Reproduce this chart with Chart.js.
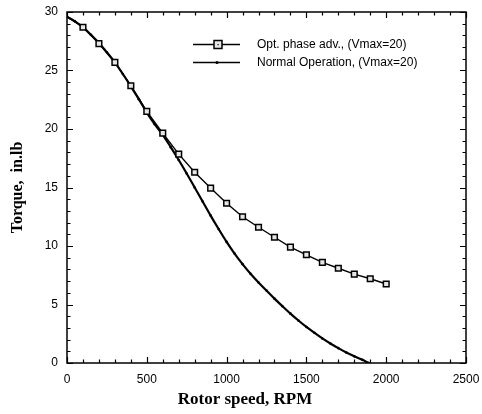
<!DOCTYPE html>
<html>
<head>
<meta charset="utf-8">
<script src="https://cdn.jsdelivr.net/npm/chart.js@4/dist/chart.umd.min.js"></script>
<style>
html,body{margin:0;padding:0;background:#fff;}
canvas{display:block;}
</style>
</head>
<body>
<canvas id="c" width="482" height="414"></canvas>
<script>
// ---- data ----
const optSpeed = [0,100,200,300,400,500,600,700,800,900,1000,1100,1200,1300,1400,1500,1600,1700,1800,1900,2000];
const optTorque = [29.6,28.7,27.3,25.7,23.7,21.5,19.65,17.85,16.3,14.95,13.65,12.5,11.6,10.75,9.9,9.25,8.6,8.1,7.6,7.2,6.75];

const normSpeed = [0,50,100,150,200,250,300,350,400,450,500,550,600,650,700,750,800,850,900,950,1000,1050,1100,1150,1200,1250,1300,1350,1400,1450,1500,1550,1600,1650,1700,1750,1800,1850,1890];
const normTorque = [29.6,29.2,28.7,28.05,27.35,26.55,25.7,24.7,23.65,22.55,21.4,20.4,19.5,18.45,17.35,16.2,15.0,13.8,12.6,11.45,10.35,9.35,8.45,7.62,6.88,6.2,5.5,4.85,4.22,3.63,3.08,2.58,2.1,1.67,1.27,0.9,0.57,0.27,0];

const seriesLabels = ["Opt. phase adv., (Vmax=20)", "Normal Operation, (Vmax=20)"];
const xTickValues = [0,500,1000,1500,2000,2500];
const yTickValues = [0,5,10,15,20,25,30];
const xTitle = "Rotor speed, RPM";
const yTitle = "Torque,  in.lb";

const toXY = (xs, ys) => xs.map((v,i)=>({x:v, y:ys[i]}));
const SANS = '"Liberation Sans", Arial, sans-serif';
const SERIF = '"Liberation Serif", "Times New Roman", serif';

const framePlugin = {
  id: 'frame',
  afterDatasetsDraw(chart) {
    const {ctx, chartArea:{left,right,top,bottom}, scales:{x,y}} = chart;
    ctx.save();
    ctx.strokeStyle = '#000';
    ctx.lineWidth = 1.5;
    ctx.strokeRect(left, top, right-left, bottom-top);
    ctx.lineWidth = 1.2;
    ctx.beginPath();
    for (let v = 0; v <= 2500; v += 100) {
      const px = Math.round(x.getPixelForValue(v)) + 0.5;
      const len = xTickValues.includes(v) ? 6 : 3.5;
      ctx.moveTo(px, bottom); ctx.lineTo(px, bottom - len);
      ctx.moveTo(px, top); ctx.lineTo(px, top + len);
    }
    for (let v = 0; v <= 30; v += 1) {
      const py = Math.round(y.getPixelForValue(v)) + 0.5;
      const len = yTickValues.includes(v) ? 6 : 3.5;
      ctx.moveTo(left, py); ctx.lineTo(left + len, py);
      ctx.moveTo(right, py); ctx.lineTo(right - len, py);
    }
    ctx.stroke();

    // x axis title (offset left of centre as in the original)
    ctx.fillStyle = '#000';
    ctx.font = 'bold 17px ' + SERIF;
    ctx.textAlign = 'center';
    ctx.textBaseline = 'middle';
    ctx.fillText(x.options.title.text, 245, 400);

    // legend
    const rows = [44, 62];
    chart.data.datasets.forEach((ds, i) => {
      const yy = rows[i];
      ctx.strokeStyle = '#000';
      ctx.lineWidth = 1.5;
      ctx.beginPath(); ctx.moveTo(193, yy + 0.5); ctx.lineTo(240, yy + 0.5); ctx.stroke();
      if (i === 0) {
        ctx.fillStyle = '#e6e6e6';
        ctx.fillRect(214, yy - 3.5, 8, 8);
        ctx.lineWidth = 1.5;
        ctx.strokeRect(214, yy - 3.5, 8, 8);
        ctx.fillStyle = '#000';
        ctx.fillRect(217.5, yy, 1.2, 1.2);
      } else {
        ctx.fillStyle = '#000';
        ctx.beginPath(); ctx.arc(217, yy + 0.5, 1.6, 0, Math.PI*2); ctx.fill();
      }
      ctx.fillStyle = '#000';
      ctx.font = '12px ' + SANS;
      ctx.textBaseline = 'middle';
      ctx.textAlign = 'left';
      ctx.fillText(ds.label, 257, yy + 1);
    });
    ctx.restore();
  }
};

new Chart(document.getElementById('c'), {
  type: 'line',
  data: {
    datasets: [
      {
        label: seriesLabels[0],
        data: toXY(optSpeed, optTorque),
        borderColor: '#000',
        borderWidth: 1.4,
        pointStyle: 'rect',
        pointRadius: (c) => c.dataIndex === 0 ? 0 : 4,
        pointBackgroundColor: '#e6e6e6',
        pointBorderColor: '#000',
        pointBorderWidth: 1.5,
        tension: 0,
        fill: false
      },
      {
        label: seriesLabels[1],
        data: toXY(normSpeed, normTorque),
        borderColor: '#000',
        borderWidth: 2.2,
        pointStyle: 'circle',
        pointRadius: 1.3,
        pointBackgroundColor: '#000',
        pointBorderWidth: 0,
        cubicInterpolationMode: 'monotone',
        fill: false
      }
    ]
  },
  options: {
    responsive: false,
    animation: false,
    devicePixelRatio: 1,
    layout: { padding: { left: 0, top: 12, right: 16, bottom: 0 } },
    plugins: { legend: { display: false }, tooltip: { enabled: false } },
    scales: {
      x: {
        type: 'linear', min: 0, max: 2500,
        afterBuildTicks: (s) => { s.ticks = xTickValues.map(v => ({value: v})); },
        afterFit: (s) => { s.height = 51; s.paddingLeft = 0; s.paddingRight = 0; },
        grid: { display: false, drawTicks: false },
        border: { display: false },
        ticks: { color: '#000', padding: 9, maxRotation: 0, autoSkip: false,
                 callback: (v) => String(v),
                 font: { family: SANS, size: 12 } },
        title: { display: false, text: xTitle, color: '#000',
                 font: { family: SERIF, size: 17, weight: 'bold' } }
      },
      y: {
        type: 'linear', min: 0, max: 30,
        afterBuildTicks: (s) => { s.ticks = yTickValues.map(v => ({value: v})); },
        afterFit: (s) => { s.width = 67; s.paddingTop = 0; s.paddingBottom = 0; },
        grid: { display: false, drawTicks: false },
        border: { display: false },
        ticks: { color: '#000', padding: 9, autoSkip: false,
                 callback: (v) => String(v),
                 font: { family: SANS, size: 12 } },
        title: { display: true, text: yTitle, color: '#000', padding: { top: 8, bottom: 4 },
                 font: { family: SERIF, size: 16, weight: 'bold' } }
      }
    }
  },
  plugins: [framePlugin]
});
</script>
</body>
</html>
